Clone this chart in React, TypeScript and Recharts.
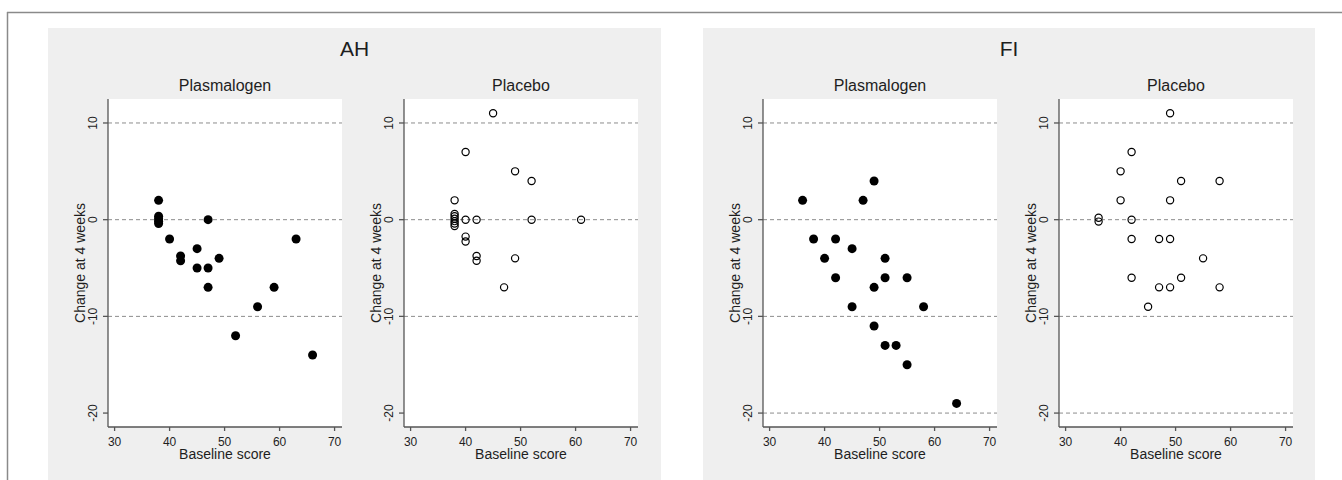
import { ScatterChart, Scatter, XAxis, YAxis, CartesianGrid, ReferenceLine } from "recharts";

const groups = ["AH", "FI"];
const arms = ["Plasmalogen", "Placebo"];
const xTicks = [30, 40, 50, 60, 70];
const yTicks = [10, 0, -10, -20];
const ahRefLines = [10, 0, -10];
const fiRefLines = [10, 0, -10, -20];

// AH, plasmalogen arm: baseline score and change at 4 weeks
const ahPlasBaseline = [38, 38, 38, 38, 38, 40, 42, 42, 45, 45, 47, 47, 47, 49, 52, 56, 59, 63, 66];
const ahPlasChange = [2, 0.35, 0.1, -0.15, -0.4, -2, -3.75, -4.25, -3, -5, 0, -5, -7, -4, -12, -9, -7, -2, -14];

// AH, placebo arm
const ahPlacBaseline = [38, 38, 38, 38, 38, 38, 38, 40, 40, 40, 40, 42, 42, 42, 45, 47, 49, 49, 52, 52, 61];
const ahPlacChange = [2, 0.6, 0.35, 0.1, -0.15, -0.4, -0.65, 7, 0, -1.75, -2.25, 0, -3.75, -4.25, 11, -7, 5, -4, 4, 0, 0];

// FI, plasmalogen arm
const fiPlasBaseline = [36, 38, 40, 42, 42, 45, 45, 47, 49, 49, 49, 51, 51, 51, 53, 55, 55, 58, 64];
const fiPlasChange = [2, -2, -4, -2, -6, -3, -9, 2, 4, -7, -11, -4, -6, -13, -13, -6, -15, -9, -19];

// FI, placebo arm
const fiPlacBaseline = [36, 36, 40, 40, 42, 42, 42, 42, 45, 47, 47, 49, 49, 49, 49, 51, 51, 55, 58, 58];
const fiPlacChange = [0.2, -0.2, 5, 2, 7, 0, -2, -6, -9, -2, -7, 11, 2, -2, -7, 4, -6, -4, 4, -7];

const zip = (xs: number[], ys: number[]) => xs.map((x, i) => ({ x, y: ys[i] }));

const FONT = "'Liberation Sans', Arial, Helvetica, sans-serif";
const TEXT = "#1e1e1e";
const AXIS = "#555";

const panels = [
  { left: 48, title: arms[0], data: zip(ahPlasBaseline, ahPlasChange), filled: true, refs: ahRefLines },
  { left: 344, title: arms[1], data: zip(ahPlacBaseline, ahPlacChange), filled: false, refs: ahRefLines },
  { left: 703, title: arms[0], data: zip(fiPlasBaseline, fiPlasChange), filled: true, refs: fiRefLines },
  { left: 999, title: arms[1], data: zip(fiPlacBaseline, fiPlacChange), filled: false, refs: fiRefLines },
];

const YTick = (props: any) => {
  const { x, y, payload } = props;
  return (
    <text x={x} y={y} transform={`rotate(-90 ${x} ${y})`} textAnchor="middle" fontSize={12} fill={TEXT}>
      {payload.value}
    </text>
  );
};

function Panel({ left, data, filled, refs }: any) {
  return (
    <div style={{ position: "absolute", left, top: 80 }}>
      <ScatterChart width={296} height={400} margin={{ top: 19, right: 2, bottom: 13, left: 0 }}>
        <CartesianGrid fill="#fff" horizontal={false} vertical={false} />
        <XAxis
          type="number"
          dataKey="x"
          domain={[28.8, 71.35]}
          ticks={xTicks}
          allowDataOverflow
          height={40}
          tickSize={4}
          tickMargin={6}
          stroke={AXIS}
          strokeWidth={1.3}
          tick={{ fill: TEXT, fontSize: 12 }}
          label={{ value: "Baseline score", position: "insideBottom", offset: 8, style: { fontSize: 14, fill: TEXT } }}
        />
        <YAxis
          type="number"
          dataKey="y"
          domain={[-21.44, 12.48]}
          ticks={yTicks}
          allowDataOverflow
          width={60}
          tickSize={5}
          tickMargin={6}
          stroke={AXIS}
          strokeWidth={1.3}
          tick={<YTick />}
          label={{
            value: "Change at 4 weeks",
            angle: -90,
            position: "insideLeft",
            offset: 32,
            style: { textAnchor: "middle", fontSize: 14, fill: TEXT },
          }}
        />
        {refs.map((v: number) => (
          <ReferenceLine key={v} y={v} stroke="#8c8c8c" strokeDasharray="4 3" />
        ))}
        <Scatter
          data={data}
          isAnimationActive={false}
          shape={(p: any) =>
            filled ? (
              <circle cx={p.cx} cy={p.cy} r={4.5} fill="#000" />
            ) : (
              <circle cx={p.cx} cy={p.cy} r={3.6} fill="none" stroke="#000" strokeWidth={1.2} />
            )
          }
        />
      </ScatterChart>
    </div>
  );
}

export default function App() {
  return (
    <div
      style={{
        position: "absolute",
        left: 0,
        top: 0,
        width: 1342,
        height: 480,
        overflow: "hidden",
        background: "#fff",
        fontFamily: FONT,
      }}
    >
      <svg width={1342} height={480} style={{ position: "absolute", left: 0, top: 0 }}>
        <line x1={7} y1={12.5} x2={1342} y2={12.5} stroke="#8a8a8a" strokeWidth={1.5} />
        <line x1={7.5} y1={12} x2={7.5} y2={480} stroke="#8a8a8a" strokeWidth={1.5} />
        <rect x={48} y={28} width={613} height={452} fill="#efefef" />
        <rect x={703} y={28} width={612} height={452} fill="#efefef" />
        <text x={354.5} y={55.5} textAnchor="middle" fontSize={21} fill={TEXT}>{groups[0]}</text>
        <text x={1009} y={55.5} textAnchor="middle" fontSize={21} fill={TEXT}>{groups[1]}</text>
        {panels.map((p, i) => (
          <text key={i} x={p.left + 60 + 117} y={90.5} textAnchor="middle" fontSize={16} fill={TEXT}>
            {p.title}
          </text>
        ))}
      </svg>
      {panels.map((p, i) => (
        <Panel key={i} {...p} />
      ))}
    </div>
  );
}
